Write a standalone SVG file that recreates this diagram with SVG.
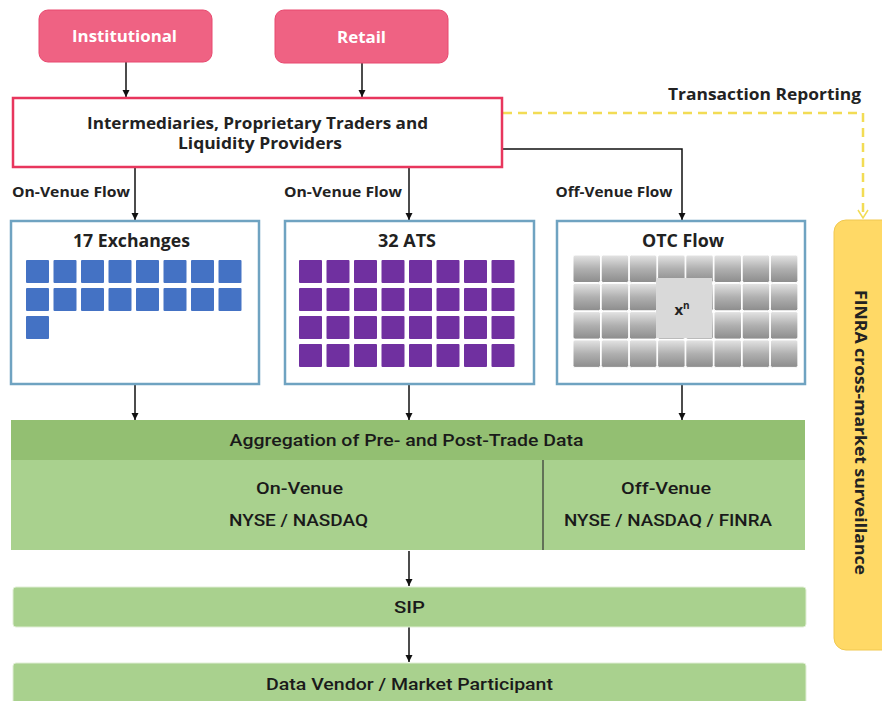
<svg xmlns="http://www.w3.org/2000/svg" width="882" height="701" viewBox="0 0 882 701">
<defs>
<style>
.b{font-family:"Open Sans","Liberation Sans",sans-serif;font-weight:700;fill:#222;text-anchor:middle}
.w{fill:#fff}
.g{font-family:"Roboto","Liberation Sans",sans-serif;font-weight:500;fill:#1a1a1a;text-anchor:middle;font-size:17px}
.src{fill:#ef6283;stroke:#e8486e;stroke-width:1}
.venue{fill:#fff;stroke:#6fa3c1;stroke-width:2.5}
.conn{stroke:#111;stroke-width:1.5;fill:none;marker-end:url(#ah)}
.ex{fill:#4472c4}
.ats{fill:#7030a0}
.tile{fill:url(#tg);stroke:#fff;stroke-width:1}
.green{fill:#a9d18e}
</style>
<marker id="ah" markerWidth="8" markerHeight="8" refX="7" refY="4" orient="auto" markerUnits="userSpaceOnUse">
<path d="M0,0.5 L7,4 L0,7.5 Z" fill="#111"/>
</marker>
<marker id="ay" markerWidth="12" markerHeight="10" refX="6" refY="9" orient="0" markerUnits="userSpaceOnUse">
<path d="M1,1 L6,9 L11,1" fill="none" stroke="#f2dc55" stroke-width="1.5"/>
</marker>
<linearGradient id="tg" x1="0" y1="0" x2="0" y2="1">
<stop offset="0" stop-color="#e4e4e4"/>
<stop offset="0.5" stop-color="#b0b0b0"/>
<stop offset="1" stop-color="#8c8c8c"/>
</linearGradient>
<rect id="sq" width="23" height="23" rx="1"/>
<rect id="tl" width="27.5" height="27.5" rx="2"/>
</defs>

<g id="connectors">
<line class="conn" x1="126" y1="62" x2="126" y2="97"/>
<line class="conn" x1="362" y1="63" x2="362" y2="97"/>
<line class="conn" x1="135" y1="167" x2="135" y2="220"/>
<line class="conn" x1="409" y1="167" x2="409" y2="220"/>
<polyline class="conn" points="503,149 682,149 682,220"/>
<line class="conn" x1="135" y1="385" x2="135" y2="420"/>
<line class="conn" x1="409" y1="385" x2="409" y2="420"/>
<line class="conn" x1="682" y1="385" x2="682" y2="420"/>
<line class="conn" x1="409" y1="551" x2="409" y2="586"/>
<line class="conn" x1="409" y1="627" x2="409" y2="662"/>
<polyline points="503,113 863,113 863,218" fill="none" stroke="#f2dc55" stroke-width="2.5" stroke-dasharray="9,6" marker-end="url(#ay)"/>
<text class="b" x="764.5" y="100" font-size="16" textLength="193" lengthAdjust="spacingAndGlyphs">Transaction Reporting</text>
<text class="b" x="71" y="197" font-size="14" textLength="118" lengthAdjust="spacingAndGlyphs">On-Venue Flow</text>
<text class="b" x="343" y="197" font-size="14" textLength="118" lengthAdjust="spacingAndGlyphs">On-Venue Flow</text>
<text class="b" x="614" y="197" font-size="14" textLength="117" lengthAdjust="spacingAndGlyphs">Off-Venue Flow</text>
</g>

<g id="institutional">
<rect class="src" x="39" y="10" width="173" height="52" rx="9"/>
<text class="b w" x="124.5" y="42" font-size="16" textLength="105" lengthAdjust="spacingAndGlyphs">Institutional</text>
</g>

<g id="retail">
<rect class="src" x="275" y="10" width="173" height="53" rx="9"/>
<text class="b w" x="361.5" y="43" font-size="16" textLength="49" lengthAdjust="spacingAndGlyphs">Retail</text>
</g>

<g id="intermediaries">
<rect x="13" y="98" width="489" height="69" fill="#fff" stroke="#e8365d" stroke-width="2.5"/>
<text class="b" x="257.5" y="129" font-size="16" textLength="341" lengthAdjust="spacingAndGlyphs">Intermediaries, Proprietary Traders and</text>
<text class="b" x="260" y="149" font-size="16" textLength="164" lengthAdjust="spacingAndGlyphs">Liquidity Providers</text>
</g>

<g id="exchanges">
<rect class="venue" x="11" y="221" width="248" height="163"/>
<text class="b" x="131.5" y="247" font-size="17" textLength="117" lengthAdjust="spacingAndGlyphs">17 Exchanges</text>
<g class="ex">
<use href="#sq" x="26" y="260"/><use href="#sq" x="53.5" y="260"/><use href="#sq" x="81" y="260"/><use href="#sq" x="108.5" y="260"/><use href="#sq" x="136" y="260"/><use href="#sq" x="163.5" y="260"/><use href="#sq" x="191" y="260"/><use href="#sq" x="218.5" y="260"/>
<use href="#sq" x="26" y="288"/><use href="#sq" x="53.5" y="288"/><use href="#sq" x="81" y="288"/><use href="#sq" x="108.5" y="288"/><use href="#sq" x="136" y="288"/><use href="#sq" x="163.5" y="288"/><use href="#sq" x="191" y="288"/><use href="#sq" x="218.5" y="288"/>
<use href="#sq" x="26" y="316"/>
</g>
</g>

<g id="ats">
<rect class="venue" x="285" y="221" width="249" height="163"/>
<text class="b" x="407" y="247" font-size="17" textLength="58" lengthAdjust="spacingAndGlyphs">32 ATS</text>
<g class="ats">
<use href="#sq" x="299" y="260"/><use href="#sq" x="326.5" y="260"/><use href="#sq" x="354" y="260"/><use href="#sq" x="381.5" y="260"/><use href="#sq" x="409" y="260"/><use href="#sq" x="436.5" y="260"/><use href="#sq" x="464" y="260"/><use href="#sq" x="491.5" y="260"/>
<use href="#sq" x="299" y="288"/><use href="#sq" x="326.5" y="288"/><use href="#sq" x="354" y="288"/><use href="#sq" x="381.5" y="288"/><use href="#sq" x="409" y="288"/><use href="#sq" x="436.5" y="288"/><use href="#sq" x="464" y="288"/><use href="#sq" x="491.5" y="288"/>
<use href="#sq" x="299" y="316"/><use href="#sq" x="326.5" y="316"/><use href="#sq" x="354" y="316"/><use href="#sq" x="381.5" y="316"/><use href="#sq" x="409" y="316"/><use href="#sq" x="436.5" y="316"/><use href="#sq" x="464" y="316"/><use href="#sq" x="491.5" y="316"/>
<use href="#sq" x="299" y="344"/><use href="#sq" x="326.5" y="344"/><use href="#sq" x="354" y="344"/><use href="#sq" x="381.5" y="344"/><use href="#sq" x="409" y="344"/><use href="#sq" x="436.5" y="344"/><use href="#sq" x="464" y="344"/><use href="#sq" x="491.5" y="344"/>
</g>
</g>

<g id="otc">
<rect class="venue" x="557" y="221" width="248" height="163"/>
<text class="b" x="683" y="247" font-size="17" textLength="82" lengthAdjust="spacingAndGlyphs">OTC Flow</text>
<g class="tile">
<use href="#tl" x="573" y="255"/><use href="#tl" x="601.2" y="255"/><use href="#tl" x="629.4" y="255"/><use href="#tl" x="657.6" y="255"/><use href="#tl" x="685.8" y="255"/><use href="#tl" x="714" y="255"/><use href="#tl" x="742.2" y="255"/><use href="#tl" x="770.4" y="255"/>
<use href="#tl" x="573" y="283.3"/><use href="#tl" x="601.2" y="283.3"/><use href="#tl" x="629.4" y="283.3"/><use href="#tl" x="657.6" y="283.3"/><use href="#tl" x="685.8" y="283.3"/><use href="#tl" x="714" y="283.3"/><use href="#tl" x="742.2" y="283.3"/><use href="#tl" x="770.4" y="283.3"/>
<use href="#tl" x="573" y="311.6"/><use href="#tl" x="601.2" y="311.6"/><use href="#tl" x="629.4" y="311.6"/><use href="#tl" x="657.6" y="311.6"/><use href="#tl" x="685.8" y="311.6"/><use href="#tl" x="714" y="311.6"/><use href="#tl" x="742.2" y="311.6"/><use href="#tl" x="770.4" y="311.6"/>
<use href="#tl" x="573" y="339.9"/><use href="#tl" x="601.2" y="339.9"/><use href="#tl" x="629.4" y="339.9"/><use href="#tl" x="657.6" y="339.9"/><use href="#tl" x="685.8" y="339.9"/><use href="#tl" x="714" y="339.9"/><use href="#tl" x="742.2" y="339.9"/><use href="#tl" x="770.4" y="339.9"/>
</g>
<rect x="656" y="278" width="56" height="60" fill="#d9d9d9"/>
<text class="b" x="682" y="315" font-size="15">x<tspan font-size="10" dy="-6">n</tspan></text>
</g>

<g id="aggregation">
<rect class="green" x="11" y="420" width="794" height="130"/>
<rect x="11" y="420" width="794" height="40" fill="#93bf72"/>
<line x1="543" y1="460" x2="543" y2="550" stroke="#333" stroke-width="1.2"/>
<text class="g" x="406.5" y="446" textLength="354" lengthAdjust="spacingAndGlyphs">Aggregation of Pre- and Post-Trade Data</text>
<text class="g" x="299.5" y="494" textLength="87" lengthAdjust="spacingAndGlyphs">On-Venue</text>
<text class="g" x="298.5" y="526" textLength="139" lengthAdjust="spacingAndGlyphs">NYSE / NASDAQ</text>
<text class="g" x="666" y="494" textLength="90" lengthAdjust="spacingAndGlyphs">Off-Venue</text>
<text class="g" x="668" y="526" textLength="208" lengthAdjust="spacingAndGlyphs">NYSE / NASDAQ / FINRA</text>
</g>

<g id="sip">
<rect class="green" x="13" y="587" width="793" height="40" rx="3" stroke="#e0eed5" stroke-width="1"/>
<text class="g" x="409.5" y="613" textLength="31" lengthAdjust="spacingAndGlyphs">SIP</text>
</g>

<g id="vendor">
<rect class="green" x="13" y="663" width="793" height="45" rx="3" stroke="#e0eed5" stroke-width="1"/>
<text class="g" x="409.5" y="690" textLength="287" lengthAdjust="spacingAndGlyphs">Data Vendor / Market Participant</text>
</g>

<g id="finra">
<rect x="834" y="220" width="60" height="430" rx="12" fill="#ffd966" stroke="#f0c850" stroke-width="1"/>
<text class="b" x="0" y="0" font-size="16" textLength="285" lengthAdjust="spacingAndGlyphs" transform="translate(855,432.5) rotate(90)">FINRA cross-market surveillance</text>
</g>
</svg>
